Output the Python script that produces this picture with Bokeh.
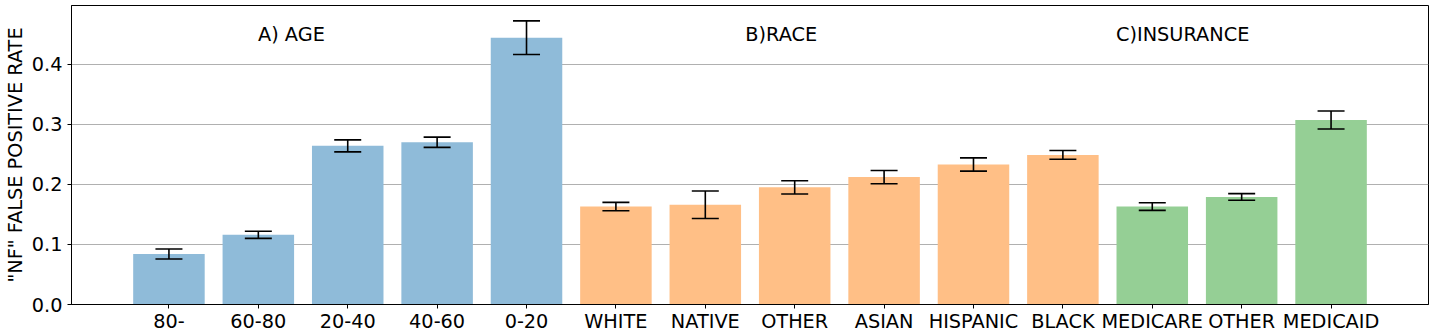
from bokeh.plotting import figure
from bokeh.models import ColumnDataSource, Whisker, TeeHead, FixedTicker
from bokeh.core.properties import value
from bokeh.embed import file_html
from bokeh.resources import INLINE

categories = ["80-", "60-80", "20-40", "40-60", "0-20",
              "WHITE", "NATIVE", "OTHER", "ASIAN", "HISPANIC", "BLACK",
              "MEDICARE", "OTHER", "MEDICAID"]
rates = [0.084, 0.116, 0.264, 0.270, 0.444,
         0.163, 0.166, 0.195, 0.212, 0.233, 0.249,
         0.163, 0.179, 0.307]
errors = [0.0083, 0.006, 0.010, 0.0085, 0.028,
          0.007, 0.023, 0.011, 0.011, 0.011, 0.0072,
          0.0063, 0.0055, 0.015]
groups = ["age"] * 5 + ["race"] * 6 + ["insurance"] * 3
group_colors = {"age": "#8fbbd9", "race": "#ffbf86", "insurance": "#95cf95"}
group_titles = ["A) AGE", "B)RACE", "C)INSURANCE"]
title_x = [1.37, 6.85, 11.34]
title_y = [0.450, 0.450, 0.450]
y_ticks = [0.0, 0.1, 0.2, 0.3, 0.4]

FONT = "DejaVu Sans"
FS = "19.3px"

xs = list(range(len(categories)))
src = ColumnDataSource(dict(
    x=xs,
    top=rates,
    upper=[r + e for r, e in zip(rates, errors)],
    lower=[r - e for r, e in zip(rates, errors)],
    color=[group_colors[g] for g in groups],
))

p = figure(width=1430, height=335, x_range=(-1.09, 14.09), y_range=(0, 0.4976),
           output_backend="svg", toolbar_location=None,
           min_border_top=5, min_border_right=2, min_border_left=70, min_border_bottom=0)

p.vbar(x="x", top="top", width=0.8, color="color", line_color=None, source=src)

wh = Whisker(base="x", upper="upper", lower="lower", source=src,
             line_color="black", line_width=1.6, level="overlay",
             upper_head=TeeHead(size=27, line_color="black", line_width=1.6),
             lower_head=TeeHead(size=27, line_color="black", line_width=1.6))
p.add_layout(wh)

tsrc = ColumnDataSource(dict(x=title_x, y=title_y, t=group_titles))
p.text(x="x", y="y", text="t", source=tsrc, text_align="center",
       text_baseline="alphabetic", text_font=value(FONT), text_font_size=FS,
       text_color="black")

# axes
p.xaxis.ticker = FixedTicker(ticks=xs)
p.xaxis.major_label_overrides = {i: c for i, c in enumerate(categories)}
p.yaxis.ticker = FixedTicker(ticks=y_ticks)
p.yaxis.major_label_overrides = {t: f"{t:.1f}" for t in y_ticks}
p.yaxis.axis_label = '"NF" FALSE POSITIVE RATE'

for ax in (p.xaxis, p.yaxis):
    ax.major_label_text_font = FONT
    ax.major_label_text_font_size = FS
    ax.major_label_text_color = "black"
    ax.axis_label_text_font = FONT
    ax.axis_label_text_font_size = FS
    ax.axis_label_text_font_style = "normal"
    ax.axis_label_text_color = "black"
    ax.major_tick_out = 4
    ax.major_tick_in = 0
    ax.minor_tick_out = 0
    ax.minor_tick_in = 0
    ax.major_tick_line_color = "black"
    ax.axis_line_color = "black"
    ax.axis_line_width = 1

p.xaxis.major_label_standoff = 1
p.yaxis.major_label_standoff = 5
p.yaxis.axis_label_standoff = 2

p.xgrid.grid_line_color = None
p.ygrid.grid_line_color = "#b0b0b0"
p.ygrid.grid_line_width = 1
p.outline_line_color = "black"
p.outline_line_width = 1
p.background_fill_color = "white"
p.border_fill_color = "white"

open("out.html", "w").write(file_html(p, INLINE))
